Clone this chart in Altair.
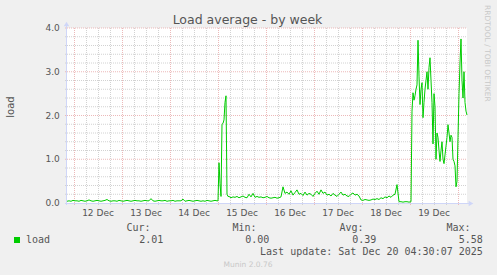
import altair as alt
import pandas as pd

# ---------------- data ----------------
TITLE = "Load average - by week"
Y_TITLE = "load"
SIDE_TEXT = "RRDTOOL / TOBI OETIKER"
FOOTER = "Munin 2.0.76"
LAST_UPDATE = "Last update: Sat Dec 20 04:30:07 2025"
SERIES = "load"
STAT_NAMES = ["Cur:", "Min:", "Avg:", "Max:"]
STAT_VALUES = ["2.01", "0.00", "0.39", "5.58"]

# time axis: hours after Sat Dec 11 20:30 (window of 200 h ending Dec 20 04:30)
day_labels = ["12 Dec", "13 Dec", "14 Dec", "15 Dec", "16 Dec", "17 Dec", "18 Dec", "19 Dec"]
day_noon_hours = [15.5, 39.5, 63.5, 87.5, 111.5, 135.5, 159.5, 183.5]
midnight_hours = [3.5, 27.5, 51.5, 75.5, 99.5, 123.5, 147.5, 171.5, 195.5]
six_hour_hours = [9.5, 15.5, 21.5, 33.5, 39.5, 45.5, 57.5, 63.5, 69.5, 81.5, 87.5, 93.5,
                  105.5, 111.5, 117.5, 129.5, 135.5, 141.5, 153.5, 159.5, 165.5,
                  177.5, 183.5, 189.5]

y_tick_values = [0, 1, 2, 3, 4]
y_tick_labels = ["0.0", "1.0", "2.0", "3.0", "4.0"]
y_minor_values = [0.2, 0.4, 0.6, 0.8, 1.2, 1.4, 1.6, 1.8, 2.2, 2.4, 2.6, 2.8,
                  3.2, 3.4, 3.6, 3.8]
y_major_values = [1, 2, 3, 4]

# load series
hours_a = list(range(0, 76))
load_a = [0.04, 0.05, 0.04, 0.06, 0.05, 0.05, 0.04, 0.06, 0.05, 0.04, 0.05, 0.07,
          0.05, 0.04, 0.05, 0.06, 0.05, 0.04, 0.05, 0.06, 0.08, 0.05, 0.04, 0.05,
          0.05, 0.04, 0.06, 0.05, 0.04, 0.05, 0.06, 0.05, 0.04, 0.05, 0.06, 0.05,
          0.05, 0.04, 0.05, 0.06, 0.05, 0.05, 0.10, 0.05, 0.04, 0.05, 0.06, 0.05,
          0.05, 0.06, 0.04, 0.05, 0.05, 0.06, 0.04, 0.05, 0.05, 0.05, 0.09, 0.04,
          0.05, 0.06, 0.05, 0.04, 0.05, 0.06, 0.05, 0.04, 0.05, 0.04, 0.06, 0.05,
          0.04, 0.05, 0.06, 0.05]
hours_b = [75.5, 76, 76.5, 77, 77.5, 78, 78.5, 79, 79.5, 80, 80.5]
load_b = [0.05, 0.92, 0.45, 0.15, 1.80, 1.82, 1.90, 2.30, 2.45, 0.20, 0.15]
hours_c = list(range(81, 108))
load_c = [0.15, 0.12, 0.14, 0.13, 0.15, 0.12, 0.14, 0.16, 0.13, 0.12, 0.20, 0.14,
          0.22, 0.13, 0.15, 0.13, 0.14, 0.12, 0.13, 0.15, 0.12, 0.11, 0.12, 0.13,
          0.11, 0.12, 0.14]
hours_d = list(range(108, 147))
load_d = [0.37, 0.22, 0.25, 0.20, 0.28, 0.18, 0.24, 0.30, 0.20, 0.22,
          0.17, 0.25, 0.18, 0.22, 0.20, 0.15, 0.22, 0.27, 0.20, 0.30,
          0.22, 0.25, 0.18, 0.20, 0.16, 0.22, 0.18, 0.15, 0.20, 0.25,
          0.18, 0.20, 0.16, 0.15, 0.20, 0.23, 0.18, 0.20, 0.16]
hours_e = list(range(147, 165))
load_e = [0.07, 0.06, 0.08, 0.07, 0.06, 0.07, 0.09, 0.08, 0.10, 0.08, 0.12, 0.10,
          0.14, 0.12, 0.16, 0.13, 0.18, 0.20]
hours_f = list(range(165, 173))
load_f = [0.42, 0.03, 0.03, 0.02, 0.03, 0.03, 0.02, 0.03]
hours_g = [172.5 + 0.5 * i for i in range(56)]
load_g = [2.10, 2.52, 2.35, 2.45, 2.60, 2.70, 3.72, 2.90, 2.25, 2.60, 2.75, 1.95,
          2.30, 2.60, 2.80, 3.00, 2.60, 3.10, 3.32, 2.80, 2.30, 1.35, 2.50, 2.20,
          1.00, 1.60, 1.50, 1.20, 0.95, 1.20, 1.40, 1.00, 0.90, 1.10, 1.30, 1.50,
          1.79, 1.60, 1.40, 1.55, 1.50, 1.00, 0.95, 0.85, 0.37, 0.50, 1.50, 2.50,
          3.20, 3.75, 2.80, 2.40, 3.00, 2.30, 2.10, 2.01]

hours = hours_a + hours_b + hours_c + hours_d + hours_e + hours_f + hours_g
load = load_a + load_b + load_c + load_d + load_e + load_f + load_g

# ---------------- styling ----------------
OX, OY = 67, 28          # plot origin on the page
W, H = 400, 175
BG = "#F0F0F0"
FONT_COLOR = "#555555"
AXIS_COLOR = "#CFD6F8"
GREEN = "#00CC00"
MINOR = "#D2D2D2"
MAJOR = "#ECB9B9"
SANS = "DejaVu Sans"
MONO = "DejaVu Sans Mono"

xs = alt.Scale(domain=[0, 200], nice=False, zero=False)
ys = alt.Scale(domain=[0, 4], nice=False, zero=True)

dummy = pd.DataFrame({"k": [0]})
series_df = pd.DataFrame({"h": hours, "v": load})


def txt(text, px, py, size, font=SANS, color=FONT_COLOR, align="left",
        baseline="alphabetic", angle=0):
    return alt.Chart(dummy).mark_text(
        text=text, font=font, fontSize=size, color=color, align=align,
        baseline=baseline, angle=angle
    ).encode(x=alt.value(px - OX), y=alt.value(py - OY))


layers = []

# vertical minor grid
layers.append(
    alt.Chart(pd.DataFrame({"h": six_hour_hours})).mark_rule(
        color=MINOR, strokeDash=[1, 1], strokeWidth=1, xOffset=0.5
    ).encode(x=alt.X("h:Q", scale=xs, axis=None), y=alt.value(0), y2=alt.value(H + 2))
)
# horizontal minor grid
layers.append(
    alt.Chart(pd.DataFrame({"v": y_minor_values})).mark_rule(
        color=MINOR, strokeDash=[1, 1], strokeWidth=1
    ).encode(y=alt.Y("v:Q", scale=ys, axis=None), x=alt.value(-2), x2=alt.value(W))
)
# vertical major grid
layers.append(
    alt.Chart(pd.DataFrame({"h": midnight_hours})).mark_rule(
        color=MAJOR, strokeDash=[1, 1], strokeWidth=1, xOffset=0.5
    ).encode(x=alt.X("h:Q", scale=xs, axis=None), y=alt.value(0), y2=alt.value(H + 3))
)
# horizontal major grid
layers.append(
    alt.Chart(pd.DataFrame({"v": y_major_values})).mark_rule(
        color=MAJOR, strokeDash=[1, 1], strokeWidth=1
    ).encode(y=alt.Y("v:Q", scale=ys, axis=None), x=alt.value(-2), x2=alt.value(W))
)

# the load line
layers.append(
    alt.Chart(series_df).mark_line(color=GREEN, strokeWidth=1, interpolate="linear").encode(
        x=alt.X("h:Q", scale=xs, axis=None),
        y=alt.Y("v:Q", scale=ys, axis=None),
    )
)

# axes lines + arrows
layers.append(
    alt.Chart(dummy).mark_rule(color=AXIS_COLOR, strokeWidth=1).encode(
        x=alt.value(-0.5), y=alt.value(-5), y2=alt.value(H + 2))
)
layers.append(
    alt.Chart(dummy).mark_rule(color=AXIS_COLOR, strokeWidth=1).encode(
        x=alt.value(-2), x2=alt.value(W + 3), y=alt.value(H + 0.5))
)
layers.append(
    alt.Chart(dummy).mark_point(shape="triangle-up", filled=True, size=30, opacity=1,
                                color=AXIS_COLOR).encode(
        x=alt.value(-0.5), y=alt.value(-4))
)
layers.append(
    alt.Chart(dummy).mark_point(shape="triangle-right", filled=True, size=30, opacity=1,
                                color=AXIS_COLOR).encode(
        x=alt.value(W + 4), y=alt.value(H + 0.5))
)

# tick labels
layers.append(
    alt.Chart(pd.DataFrame({"h": day_noon_hours, "lab": day_labels})).mark_text(
        font=SANS, fontSize=9, color=FONT_COLOR, align="center", baseline="alphabetic"
    ).encode(x=alt.X("h:Q", scale=xs, axis=None), y=alt.value(216 - OY), text="lab:N")
)
layers.append(
    alt.Chart(pd.DataFrame({"v": y_tick_values, "lab": y_tick_labels})).mark_text(
        font=SANS, fontSize=9, color=FONT_COLOR, align="right", baseline="middle"
    ).encode(y=alt.Y("v:Q", scale=ys, axis=None), x=alt.value(59.8 - OX), text="lab:N")
)

# titles and side texts
layers.append(txt(TITLE, 247.5, 24, 12.5, align="center"))
layers.append(txt(Y_TITLE, 14, 107, 10, align="center", angle=270))
layers.append(txt(SIDE_TEXT, 485, 5, 7.5, color="#C8C8C8", align="left", angle=90))
layers.append(txt(FOOTER, 248, 266.7, 7.5, color="#C8C8C8", align="center"))

# legend
layers.append(
    alt.Chart(dummy).mark_rect(color=GREEN).encode(
        x=alt.value(14 - OX), x2=alt.value(20 - OX),
        y=alt.value(237 - OY), y2=alt.value(243 - OY))
)
layers.append(txt(SERIES, 26, 242.7, 10, font=MONO))
head_right = [150.6, 256.6, 363.6, 470.6]
val_right = [163.4, 269.4, 376.4, 482.8]
for name, xr in zip(STAT_NAMES, head_right):
    layers.append(txt(name, xr, 231, 10, font=MONO, align="right"))
for val, xr in zip(STAT_VALUES, val_right):
    layers.append(txt(val, xr, 242.7, 10, font=MONO, align="right"))
layers.append(txt(LAST_UPDATE, 482.8, 255, 10, font=MONO, align="right"))

chart = alt.layer(*layers).properties(
    width=W, height=H,
    autosize=alt.AutoSizeParams(type="none"),
    padding={"left": OX, "top": OY, "right": 497 - OX - W, "bottom": 275 - OY - H},
    background=BG,
).configure_view(fill="#FFFFFF", strokeWidth=0)

chart.save("out.html", embed_options={"renderer": "svg", "actions": False})
